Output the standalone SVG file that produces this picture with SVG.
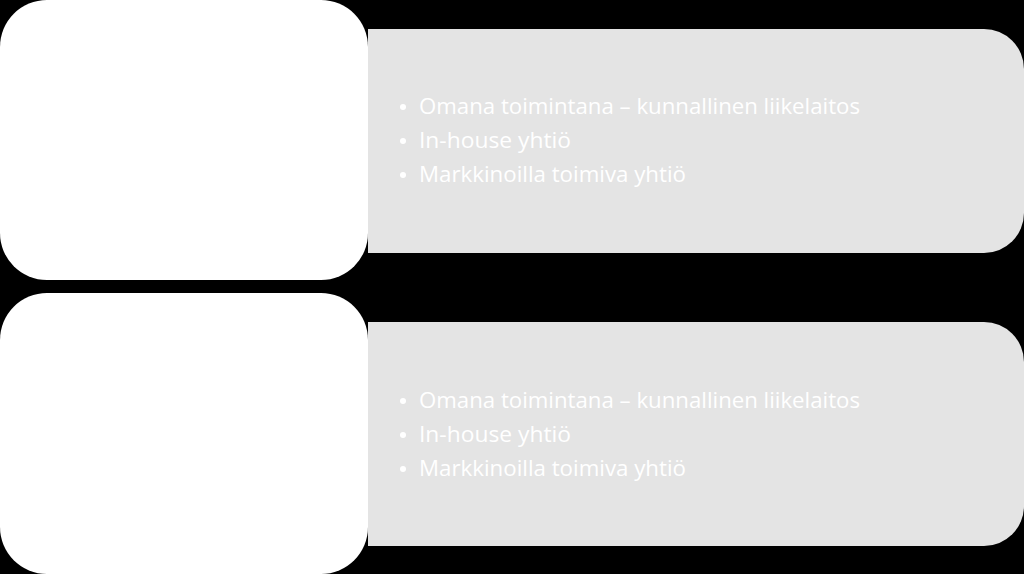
<svg xmlns="http://www.w3.org/2000/svg" width="1024" height="574" viewBox="0 0 1024 574">
<style>
.left{fill:#ffffff}
.right{fill:#e4e4e4}
.t{fill:#ffffff;font-family:"Open Sans","Liberation Sans",sans-serif;font-size:22px}
.b{fill:#ffffff}
</style>
<rect x="0" y="0" width="1024" height="574" fill="#000000"/>
<g id="row1-detail">
<path class="right" d="M368,29 H984 A40,40 0 0 1 1024,69 V213 A40,40 0 0 1 984,253 H368 Z"/>
<circle class="b" cx="403" cy="107" r="3"/>
<circle class="b" cx="403" cy="141" r="3"/>
<circle class="b" cx="403" cy="175" r="3"/>
<text class="t" x="419" y="114" textLength="441" lengthAdjust="spacingAndGlyphs">Omana toimintana – kunnallinen liikelaitos</text>
<text class="t" x="419" y="148" textLength="152" lengthAdjust="spacingAndGlyphs">In-house yhtiö</text>
<text class="t" x="419" y="182" textLength="267" lengthAdjust="spacingAndGlyphs">Markkinoilla toimiva yhtiö</text>
</g>
<g id="row1-title">
<rect class="left" x="0" y="0" width="368" height="280" rx="47" ry="47"/>
</g>
<g id="row2-detail">
<path class="right" d="M368,322 H984 A40,40 0 0 1 1024,362 V506 A40,40 0 0 1 984,546 H368 Z"/>
<circle class="b" cx="403" cy="401" r="3"/>
<circle class="b" cx="403" cy="435" r="3"/>
<circle class="b" cx="403" cy="469" r="3"/>
<text class="t" x="419" y="408" textLength="441" lengthAdjust="spacingAndGlyphs">Omana toimintana – kunnallinen liikelaitos</text>
<text class="t" x="419" y="442" textLength="152" lengthAdjust="spacingAndGlyphs">In-house yhtiö</text>
<text class="t" x="419" y="476" textLength="267" lengthAdjust="spacingAndGlyphs">Markkinoilla toimiva yhtiö</text>
</g>
<g id="row2-title">
<rect class="left" x="0" y="293" width="368" height="281" rx="47" ry="47"/>
</g>
<g id="connectors"/>
</svg>
